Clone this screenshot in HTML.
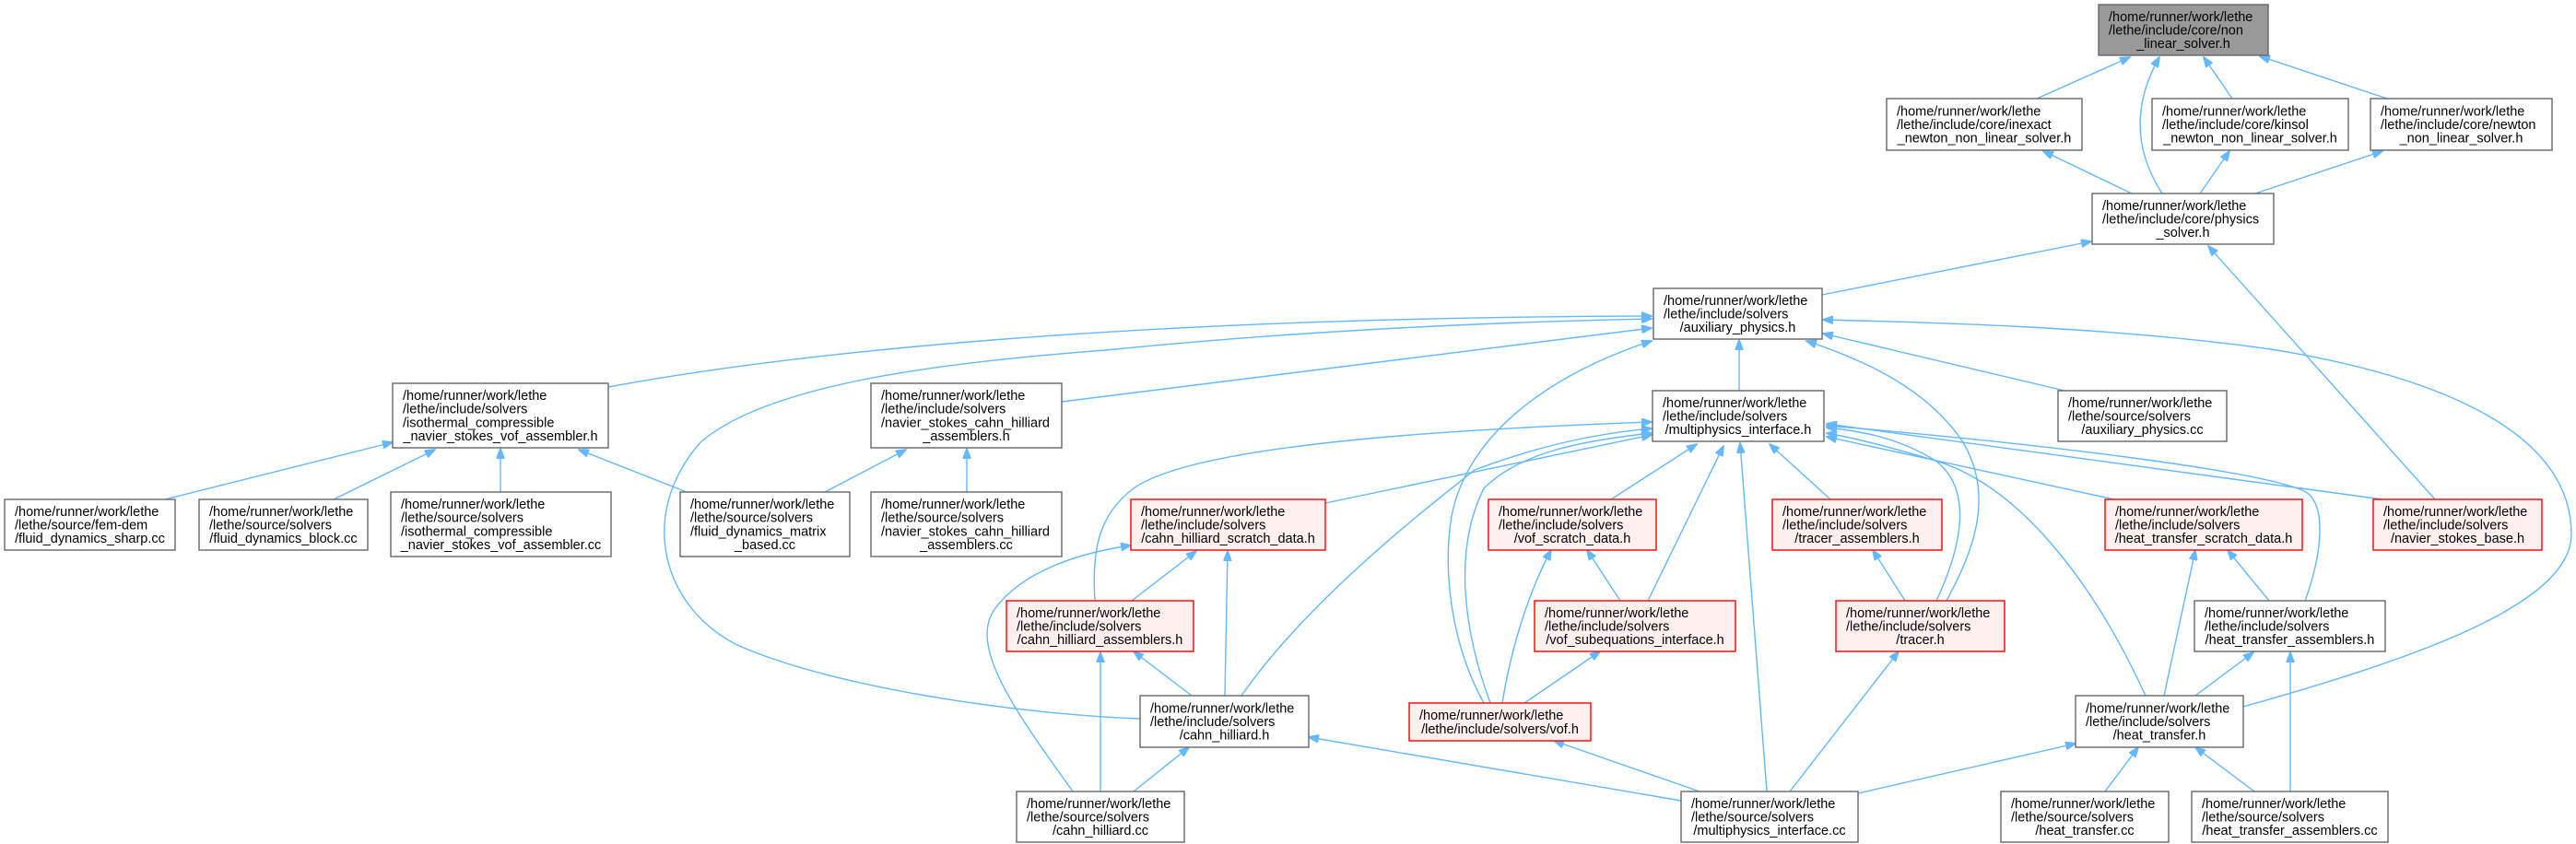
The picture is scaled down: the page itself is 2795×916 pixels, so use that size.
<!DOCTYPE html>
<html><head><meta charset="utf-8"><style>
html,body{margin:0;padding:0;background:#fff;}
svg{display:block;}
text{font-family:"Liberation Sans",sans-serif;font-size:14.5px;fill:#000;}
.m{text-anchor:middle;}
rect{stroke:#666;stroke-width:1.4;fill:#fff;}
rect.r{stroke:#ff0000;fill:#fff0f0;}
rect.g{fill:#999;}
path{fill:none;stroke:#63b8ff;stroke-width:1.4;}
</style></head><body>
<svg width="2795" height="916" viewBox="0 0 2795 916" xmlns="http://www.w3.org/2000/svg">
<defs><marker id="a" viewBox="0 0 12 9" markerWidth="12" markerHeight="9" refX="11" refY="4.5" orient="auto" markerUnits="userSpaceOnUse"><path d="M0,0 L12,4.5 L0,9 z" style="fill:#63b8ff;stroke:#63b8ff;stroke-width:1"/></marker></defs>
<g marker-end="url(#a)">
<path d="M2210,107 L2311,62"/>
<path d="M2346,210 C2320,170 2310,120 2343,62"/>
<path d="M2422,107 L2391,62"/>
<path d="M2590,107 L2452,61"/>
<path d="M2313,210 L2217,164"/>
<path d="M2387,210 L2419,164"/>
<path d="M2447,210 L2585,164"/>
<path d="M1977,320 L2269,262"/>
<path d="M2642,542 L2396,267"/>
<path d="M660,420 C850,385 1200,345 1792,343"/>
<path d="M1237,780 C1100,775 900,745 800,700 C720,660 690,560 760,480 C830,420 1000,395 1200,380 C1400,360 1600,350 1792,346"/>
<path d="M1152,436 L1792,356"/>
<path d="M1610,763 C1575,700 1565,620 1575,560 C1595,460 1700,400 1792,370"/>
<path d="M1887,424 L1887,369"/>
<path d="M2112,652 C2140,600 2165,540 2130,480 C2090,420 2020,390 1960,370"/>
<path d="M2240,424 L1978,362"/>
<path d="M2434,767 C2600,720 2790,660 2790,580 C2790,470 2650,410 2470,380 C2300,355 2100,350 1978,347"/>
<path d="M1188,652 C1185,600 1190,560 1230,530 C1300,480 1600,465 1792,458"/>
<path d="M1438,546 L1792,472"/>
<path d="M1347,755 C1420,650 1550,550 1600,510 C1680,480 1740,470 1792,465"/>
<path d="M1617,763 C1590,690 1575,600 1610,530 C1650,490 1720,478 1792,470"/>
<path d="M1748,542 L1841,482"/>
<path d="M1788,652 L1870,484"/>
<path d="M1917,859 L1888,481"/>
<path d="M1986,542 L1920,482"/>
<path d="M2101,652 C2130,590 2140,530 2100,500 C2060,475 2020,468 1982,464"/>
<path d="M2328,755 C2280,650 2200,530 2100,500 C2050,485 2010,475 1982,470"/>
<path d="M2294,542 L1982,474"/>
<path d="M2501,652 C2520,600 2525,545 2500,533 C2450,510 2200,480 1982,462"/>
<path d="M2585,542 L1982,460"/>
<path d="M179,542 L426,480"/>
<path d="M362,542 L472,488"/>
<path d="M543,534 L543,487"/>
<path d="M745,534 L628,488"/>
<path d="M895,534 L983,488"/>
<path d="M1049,534 L1049,487"/>
<path d="M1228,652 L1298,598"/>
<path d="M1329,755 L1332,598"/>
<path d="M1164,859 C1100,770 1050,700 1080,660 C1110,620 1170,600 1227,592"/>
<path d="M1293,755 L1230,707"/>
<path d="M1194,859 L1194,708"/>
<path d="M1230,859 L1290,811"/>
<path d="M1824,869 L1420,800"/>
<path d="M1630,763 C1640,700 1660,640 1683,597"/>
<path d="M1758,652 L1722,597"/>
<path d="M1654,763 L1736,707"/>
<path d="M1844,859 L1686,804"/>
<path d="M2067,652 L2032,597"/>
<path d="M1942,859 L2060,707"/>
<path d="M2348,755 L2382,597"/>
<path d="M2462,652 L2417,597"/>
<path d="M2382,755 L2445,708"/>
<path d="M2485,859 L2485,708"/>
<path d="M2016,861 L2252,807"/>
<path d="M2284,859 L2320,811"/>
<path d="M2446,859 L2382,811"/>
</g>

<rect class="g" x="2277" y="5" width="184" height="55"/>
<text x="2288" y="22.8">/home/runner/work/lethe</text><text x="2288" y="37.5">/lethe/include/core/non</text><text class="m" x="2369" y="52.2">_linear_solver.h</text>

<rect x="2047" y="107" width="212" height="56"/>
<text x="2058" y="125.3">/home/runner/work/lethe</text><text x="2058" y="140">/lethe/include/core/inexact</text><text class="m" x="2153" y="154.7">_newton_non_linear_solver.h</text>

<rect x="2335" y="107" width="213" height="56"/>
<text x="2346" y="125.3">/home/runner/work/lethe</text><text x="2346" y="140">/lethe/include/core/kinsol</text><text class="m" x="2441.5" y="154.7">_newton_non_linear_solver.h</text>

<rect x="2572" y="107" width="197" height="56"/>
<text x="2583" y="125.3">/home/runner/work/lethe</text><text x="2583" y="140">/lethe/include/core/newton</text><text class="m" x="2670.5" y="154.7">_non_linear_solver.h</text>

<rect x="2270" y="210" width="197" height="55"/>
<text x="2281" y="227.8">/home/runner/work/lethe</text><text x="2281" y="242.5">/lethe/include/core/physics</text><text class="m" x="2368.5" y="257.2">_solver.h</text>

<rect x="1794" y="313" width="183" height="55"/>
<text x="1805" y="330.8">/home/runner/work/lethe</text><text x="1805" y="345.5">/lethe/include/solvers</text><text class="m" x="1885.5" y="360.2">/auxiliary_physics.h</text>

<rect x="1793" y="424" width="186" height="55"/>
<text x="1804" y="441.8">/home/runner/work/lethe</text><text x="1804" y="456.5">/lethe/include/solvers</text><text class="m" x="1886" y="471.2">/multiphysics_interface.h</text>

<rect x="2233" y="424" width="183" height="55"/>
<text x="2244" y="441.8">/home/runner/work/lethe</text><text x="2244" y="456.5">/lethe/source/solvers</text><text class="m" x="2324.5" y="471.2">/auxiliary_physics.cc</text>

<rect x="426" y="416" width="234" height="70"/>
<text x="437" y="433.9">/home/runner/work/lethe</text><text x="437" y="448.6">/lethe/include/solvers</text><text x="437" y="463.3">/isothermal_compressible</text><text class="m" x="543" y="478">_navier_stokes_vof_assembler.h</text>

<rect x="945" y="416" width="207" height="70"/>
<text x="956" y="433.9">/home/runner/work/lethe</text><text x="956" y="448.6">/lethe/include/solvers</text><text x="956" y="463.3">/navier_stokes_cahn_hilliard</text><text class="m" x="1048.5" y="478">_assemblers.h</text>

<rect x="5" y="542" width="185" height="55"/>
<text x="16" y="559.8">/home/runner/work/lethe</text><text x="16" y="574.5">/lethe/source/fem-dem</text><text class="m" x="97.5" y="589.2">/fluid_dynamics_sharp.cc</text>

<rect x="216" y="542" width="183" height="55"/>
<text x="227" y="559.8">/home/runner/work/lethe</text><text x="227" y="574.5">/lethe/source/solvers</text><text class="m" x="307.5" y="589.2">/fluid_dynamics_block.cc</text>

<rect x="424" y="534" width="239" height="70"/>
<text x="435" y="551.9">/home/runner/work/lethe</text><text x="435" y="566.6">/lethe/source/solvers</text><text x="435" y="581.3">/isothermal_compressible</text><text class="m" x="543.5" y="596">_navier_stokes_vof_assembler.cc</text>

<rect x="738" y="534" width="184" height="70"/>
<text x="749" y="551.9">/home/runner/work/lethe</text><text x="749" y="566.6">/lethe/source/solvers</text><text x="749" y="581.3">/fluid_dynamics_matrix</text><text class="m" x="830" y="596">_based.cc</text>

<rect x="945" y="534" width="207" height="70"/>
<text x="956" y="551.9">/home/runner/work/lethe</text><text x="956" y="566.6">/lethe/source/solvers</text><text x="956" y="581.3">/navier_stokes_cahn_hilliard</text><text class="m" x="1048.5" y="596">_assemblers.cc</text>

<rect class="r" x="1227" y="542" width="211" height="55"/>
<text x="1238" y="559.8">/home/runner/work/lethe</text><text x="1238" y="574.5">/lethe/include/solvers</text><text class="m" x="1332.5" y="589.2">/cahn_hilliard_scratch_data.h</text>

<rect class="r" x="1615" y="542" width="182" height="55"/>
<text x="1626" y="559.8">/home/runner/work/lethe</text><text x="1626" y="574.5">/lethe/include/solvers</text><text class="m" x="1706" y="589.2">/vof_scratch_data.h</text>

<rect class="r" x="1923" y="542" width="184" height="55"/>
<text x="1934" y="559.8">/home/runner/work/lethe</text><text x="1934" y="574.5">/lethe/include/solvers</text><text class="m" x="2015" y="589.2">/tracer_assemblers.h</text>

<rect class="r" x="2284" y="542" width="214" height="55"/>
<text x="2295" y="559.8">/home/runner/work/lethe</text><text x="2295" y="574.5">/lethe/include/solvers</text><text class="m" x="2391" y="589.2">/heat_transfer_scratch_data.h</text>

<rect class="r" x="2575" y="542" width="183" height="55"/>
<text x="2586" y="559.8">/home/runner/work/lethe</text><text x="2586" y="574.5">/lethe/include/solvers</text><text class="m" x="2666.5" y="589.2">/navier_stokes_base.h</text>

<rect class="r" x="1092" y="652" width="203" height="55"/>
<text x="1103" y="669.8">/home/runner/work/lethe</text><text x="1103" y="684.5">/lethe/include/solvers</text><text class="m" x="1193.5" y="699.2">/cahn_hilliard_assemblers.h</text>

<rect class="r" x="1665" y="652" width="218" height="55"/>
<text x="1676" y="669.8">/home/runner/work/lethe</text><text x="1676" y="684.5">/lethe/include/solvers</text><text class="m" x="1774" y="699.2">/vof_subequations_interface.h</text>

<rect class="r" x="1992" y="652" width="183" height="55"/>
<text x="2003" y="669.8">/home/runner/work/lethe</text><text x="2003" y="684.5">/lethe/include/solvers</text><text class="m" x="2083.5" y="699.2">/tracer.h</text>

<rect x="2381" y="652" width="207" height="55"/>
<text x="2392" y="669.8">/home/runner/work/lethe</text><text x="2392" y="684.5">/lethe/include/solvers</text><text class="m" x="2484.5" y="699.2">/heat_transfer_assemblers.h</text>

<rect x="1237" y="755" width="183" height="56"/>
<text x="1248" y="773.3">/home/runner/work/lethe</text><text x="1248" y="788">/lethe/include/solvers</text><text class="m" x="1328.5" y="802.7">/cahn_hilliard.h</text>

<rect class="r" x="1529" y="763" width="197" height="41"/>
<text x="1540" y="781.1">/home/runner/work/lethe</text><text class="m" x="1627.5" y="795.8">/lethe/include/solvers/vof.h</text>

<rect x="2252" y="755" width="182" height="56"/>
<text x="2263" y="773.3">/home/runner/work/lethe</text><text x="2263" y="788">/lethe/include/solvers</text><text class="m" x="2343" y="802.7">/heat_transfer.h</text>

<rect x="1103" y="859" width="182" height="55"/>
<text x="1114" y="876.8">/home/runner/work/lethe</text><text x="1114" y="891.5">/lethe/source/solvers</text><text class="m" x="1194" y="906.2">/cahn_hilliard.cc</text>

<rect x="1824" y="859" width="192" height="55"/>
<text x="1835" y="876.8">/home/runner/work/lethe</text><text x="1835" y="891.5">/lethe/source/solvers</text><text class="m" x="1920" y="906.2">/multiphysics_interface.cc</text>

<rect x="2171" y="859" width="182" height="55"/>
<text x="2182" y="876.8">/home/runner/work/lethe</text><text x="2182" y="891.5">/lethe/source/solvers</text><text class="m" x="2262" y="906.2">/heat_transfer.cc</text>

<rect x="2378" y="859" width="213" height="55"/>
<text x="2389" y="876.8">/home/runner/work/lethe</text><text x="2389" y="891.5">/lethe/source/solvers</text><text class="m" x="2484.5" y="906.2">/heat_transfer_assemblers.cc</text>
</svg>
</body></html>
